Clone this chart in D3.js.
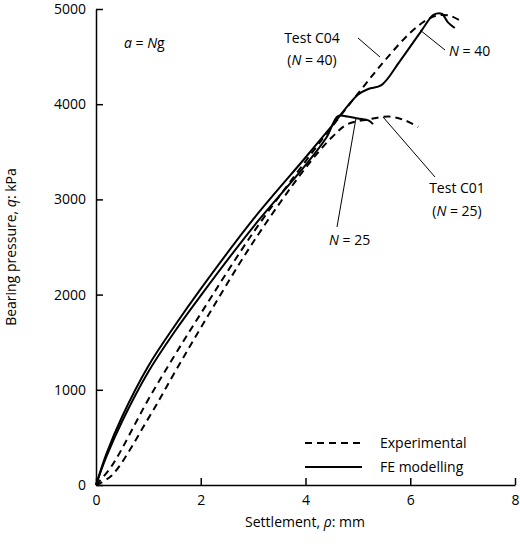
<!DOCTYPE html>
<html><head><meta charset="utf-8">
<script src="https://cdn.jsdelivr.net/npm/d3@7"></script>
<style>body{margin:0;background:#fff}text{font-family:"Open Sans",sans-serif;fill:#000}</style>
</head><body><svg id="chart" width="520" height="548"></svg>
<script>
// settlement (mm) vs bearing pressure (kPa)
const feN40 = [[0,0],[0.2,330],[0.5,720],[1,1250],[1.5,1670],[2,2060],[3,2790],[4,3440],[4.5,3770],[5,4100],[5.2,4160],[5.45,4200],[5.8,4450],[6.2,4760],[6.45,4940],[6.6,4950],[6.72,4860],[6.85,4800]];
const feN25 = [[0,0],[0.2,300],[0.5,670],[1,1190],[1.5,1610],[2,1990],[3,2710],[4,3360],[4.4,3650],[4.62,3876],[4.8,3870],[5.0,3850],[5.2,3830],[5.29,3790]];
const expC04 = [[0,0],[0.3,200],[1,900],[1.5,1360],[2,1800],[3,2650],[4,3400],[4.5,3760],[5,4110],[5.5,4450],[6,4750],[6.3,4880],[6.5,4930],[6.75,4930],[6.95,4880]];
const expC01 = [[0,0],[0.3,100],[1,700],[1.5,1180],[2,1650],[3,2550],[4,3330],[4.5,3650],[4.8,3790],[5.2,3840],[5.6,3870],[5.9,3830],[6.15,3760]];
const xTicks = [0,2,4,6,8];
const yTicks = [0,1000,2000,3000,4000,5000];

const svg = d3.select("#chart");
const x = d3.scaleLinear().domain([0,8]).range([96,515]);
const y = d3.scaleLinear().domain([0,5000]).range([485,9]);

svg.append("g").attr("transform","translate(0,485)")
  .call(d3.axisBottom(x).tickValues(xTicks).tickFormat(d3.format("d")).tickSizeInner(-7).tickSizeOuter(0).tickPadding(10))
  .call(g=>g.selectAll("text").attr("font-size",14));
svg.append("g").attr("transform","translate(96,0)")
  .call(d3.axisLeft(y).tickValues(yTicks).tickFormat(d3.format("d")).tickSizeInner(-7).tickSizeOuter(0).tickPadding(10))
  .call(g=>g.selectAll("text").attr("font-size",14));
svg.selectAll(".domain, .tick line").attr("stroke","#000").attr("stroke-width",1.5);
svg.selectAll(".tick text").attr("font-family","Open Sans").attr("fill","#000");

const line = d3.line().x(d=>x(d[0])).y(d=>y(d[1])).curve(d3.curveCatmullRom);
const series = [
  {d: feN40, dash: null}, {d: feN25, dash: null},
  {d: expC04, dash: "7 5"}, {d: expC01, dash: "7 5"}
];
svg.selectAll(".curve").data(series).join("path").attr("class","curve")
  .attr("d", s=>line(s.d)).attr("fill","none").attr("stroke","#000")
  .attr("stroke-width",2).attr("stroke-dasharray", s=>s.dash);

// leader lines
const leaders = [[358,38,380,57],[445,50,420,30],[435,177,383,117],[337,227,356,118]];
svg.selectAll(".leader").data(leaders).join("line").attr("class","leader")
  .attr("x1",d=>d[0]).attr("y1",d=>d[1]).attr("x2",d=>d[2]).attr("y2",d=>d[3])
  .attr("stroke","#000").attr("stroke-width",1);

const lab = (tx, ty, parts, anchor="start") => {
  const t = svg.append("text").attr("x",tx).attr("y",ty).attr("font-size",14).attr("text-anchor",anchor);
  parts.forEach(p=>t.append("tspan").attr("font-style",p[1]?"italic":null).text(p[0]));
};
lab(124,48,[["a",1],[" = ",0],["N",1],["g",0]]);
lab(312,43,[["Test C04",0]],"middle");
lab(312,65,[["(",0],["N",1],[" = 40)",0]],"middle");
lab(449,56,[["N",1],[" = 40",0]]);
lab(457,193,[["Test C01",0]],"middle");
lab(457,216,[["(",0],["N",1],[" = 25)",0]],"middle");
lab(329,245,[["N",1],[" = 25",0]]);

// legend
[[443,"7 5","Experimental"],[467,null,"FE modelling"]].forEach(([ly,dash,txt])=>{
  svg.append("line").attr("x1",305).attr("x2",362).attr("y1",ly).attr("y2",ly)
    .attr("stroke","#000").attr("stroke-width",2).attr("stroke-dasharray",dash);
  svg.append("text").attr("x",380).attr("y",ly+5).attr("font-size",14).text(txt);
});

// axis titles
lab(305,527,[["Settlement, ",0],["ρ",1],[": mm",0]],"middle");
const yt = svg.append("text").attr("transform","translate(16,247) rotate(-90)").attr("text-anchor","middle").attr("font-size",14);
yt.append("tspan").text("Bearing pressure, ");
yt.append("tspan").attr("font-style","italic").text("q");
yt.append("tspan").text(": kPa");
</script></body></html>
